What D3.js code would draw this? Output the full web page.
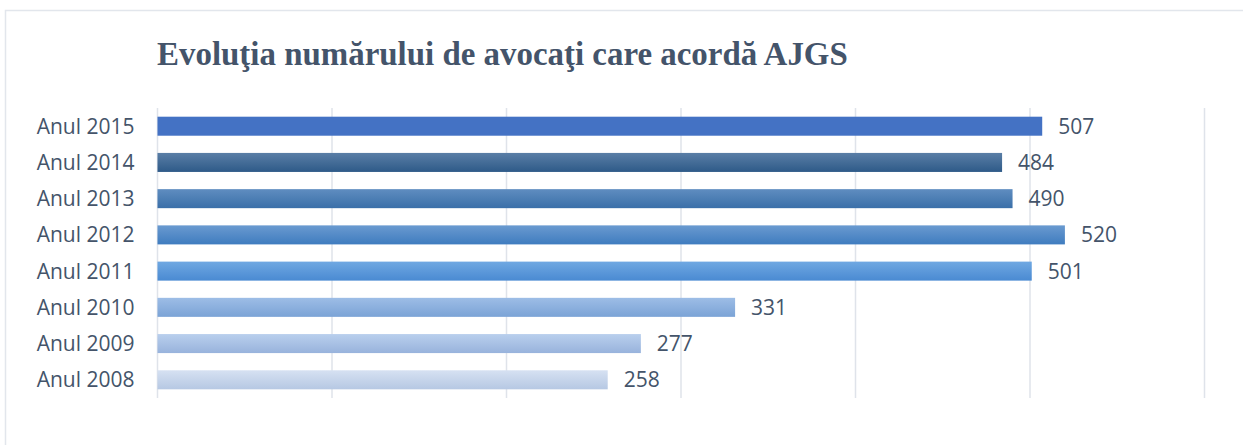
<!DOCTYPE html>
<html>
<head>
<meta charset="utf-8">
<script src="https://cdn.jsdelivr.net/npm/d3@7"></script>
<style>
  html, body { margin: 0; padding: 0; background: #fff; }
  svg { display: block; }
</style>
</head>
<body>
<svg id="chart" width="1243" height="445"></svg>
<script>
// chart data, top row first
var years = ['Anul 2015', 'Anul 2014', 'Anul 2013', 'Anul 2012', 'Anul 2011', 'Anul 2010', 'Anul 2009', 'Anul 2008']
var counts = [507, 484, 490, 520, 501, 331, 277, 258]
var xTicks = [0, 100, 200, 300, 400, 500, 600]
// gradient colours per bar: top, bottom
var topColors = ['#4472c4', '#5a7ea6', '#5f8dc0', '#6a9ad0', '#6fa8e2', '#9dbde6', '#b9cfed', '#d6e1f2']
var bottomColors = ['#4472c4', '#2e5a88', '#3a6fa8', '#3f7cbf', '#4a8ad2', '#7ba3d6', '#98b3dc', '#b6c8e3']

var title = 'Evoluţia numărului de avocaţi care acordă AJGS'
var textColor = '#44546a'

var svg = d3.select('#chart')

// outer frame
svg.append('rect')
  .attr('x', 5.5)
  .attr('y', 10.5)
  .attr('width', 1300)
  .attr('height', 500)
  .attr('fill', '#fff')
  .attr('stroke', '#e2e6ec')
  .attr('stroke-width', 1.5)

var plot = { left: 157.5, right: 1204.5, top: 108, bottom: 398 }

var x = d3.scaleLinear()
  .domain([0, 600])
  .range([plot.left, plot.right])

var y = d3.scaleBand()
  .domain(years)
  .range([plot.top, plot.bottom])
  .paddingInner(0.475)
  .paddingOuter(0.24)

var defs = svg.append('defs')
years.forEach(function (d, i) {
  var g = defs.append('linearGradient')
    .attr('id', 'grad' + i)
    .attr('x1', 0).attr('y1', 0)
    .attr('x2', 0).attr('y2', 1)
  g.append('stop').attr('offset', '0%').attr('stop-color', topColors[i])
  g.append('stop').attr('offset', '100%').attr('stop-color', bottomColors[i])
})

// gridlines
svg.append('g')
  .selectAll('line')
  .data(xTicks)
  .enter()
  .append('line')
  .attr('x1', function (d) { return x(d) })
  .attr('x2', function (d) { return x(d) })
  .attr('y1', plot.top)
  .attr('y2', plot.bottom)
  .attr('stroke', '#dfe3ea')
  .attr('stroke-width', 1.5)

// bars
svg.append('g')
  .selectAll('rect')
  .data(counts)
  .enter()
  .append('rect')
  .attr('x', x(0))
  .attr('y', function (d, i) { return y(years[i]) })
  .attr('width', function (d) { return x(d) - x(0) })
  .attr('height', y.bandwidth())
  .attr('fill', function (d, i) { return 'url(#grad' + i + ')' })

// value labels
svg.append('g')
  .selectAll('text')
  .data(counts)
  .enter()
  .append('text')
  .attr('x', function (d) { return x(d) + 16 })
  .attr('y', function (d, i) { return y(years[i]) + y.bandwidth() / 2 })
  .attr('dy', '0.36em')
  .attr('font-family', 'Open Sans, sans-serif')
  .attr('font-size', 21)
  .attr('fill', textColor)
  .text(function (d) { return d })

// category axis
var yAxis = svg.append('g')
  .attr('transform', 'translate(' + (plot.left - 23) + ',0)')
  .call(d3.axisLeft(y).tickSize(0).tickPadding(0))
yAxis.select('.domain').remove()
yAxis.selectAll('text')
  .attr('font-family', 'Open Sans, sans-serif')
  .attr('font-size', 21)
  .attr('fill', textColor)
  .attr('dy', '0.36em')

// title, sized so it spans the same width as in the original
var titleText = svg.append('text')
  .attr('x', 157)
  .attr('y', 65)
  .attr('font-family', 'Liberation Serif, serif')
  .attr('font-weight', 'bold')
  .attr('font-size', 30)
  .attr('fill', textColor)
  .text(title)
var w = titleText.node().getComputedTextLength()
titleText.attr('font-size', 30 * 691 / w)
</script>
</body>
</html>
